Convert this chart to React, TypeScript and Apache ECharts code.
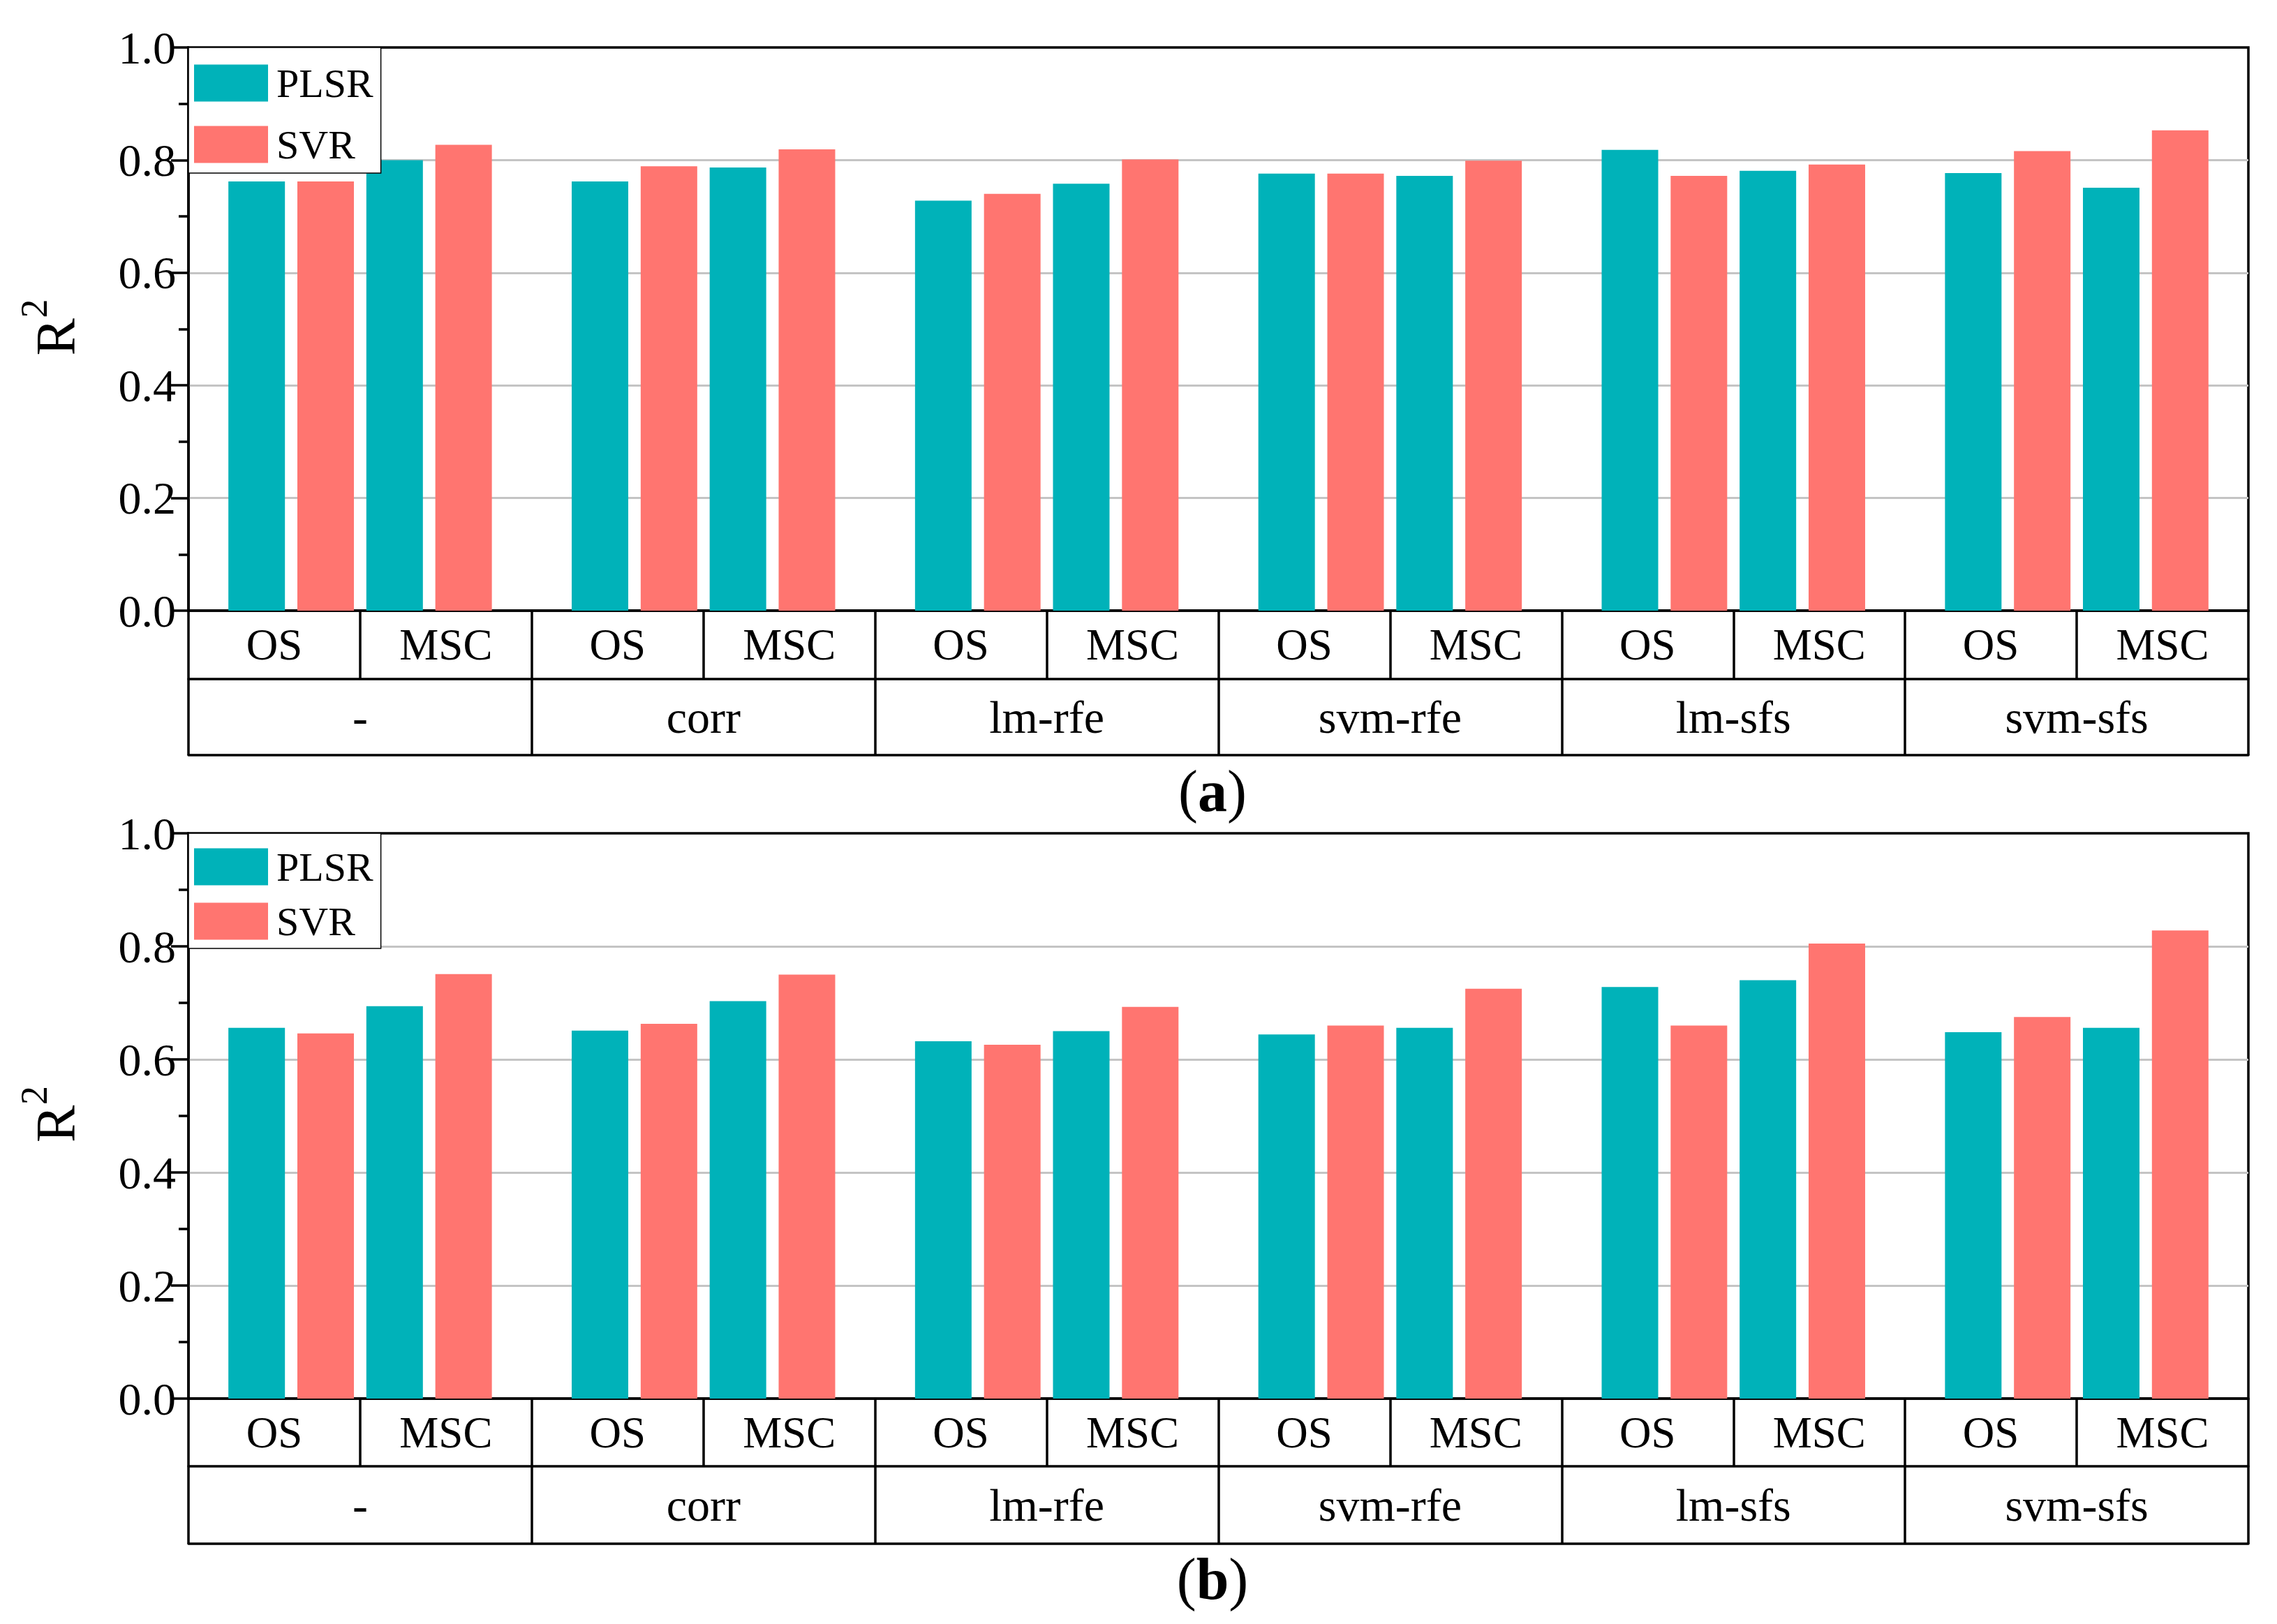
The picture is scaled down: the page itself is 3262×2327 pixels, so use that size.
import React, { useEffect, useRef } from "react";
import * as echarts from "echarts";

// ---- data ----
const groups = ["-", "corr", "lm-rfe", "svm-rfe", "lm-sfs", "svm-sfs"];
const subLabels = ["OS", "MSC"];
const seriesNames = ["PLSR", "SVR"];

// (a)
const plsrOS_a = [0.762, 0.762, 0.728, 0.776, 0.818, 0.777];
const svrOS_a = [0.762, 0.789, 0.740, 0.776, 0.772, 0.816];
const plsrMSC_a = [0.800, 0.787, 0.758, 0.772, 0.781, 0.751];
const svrMSC_a = [0.827, 0.819, 0.801, 0.799, 0.792, 0.853];

// (b)
const plsrOS_b = [0.656, 0.651, 0.632, 0.644, 0.728, 0.648];
const svrOS_b = [0.646, 0.663, 0.626, 0.660, 0.660, 0.675];
const plsrMSC_b = [0.694, 0.703, 0.650, 0.656, 0.740, 0.656];
const svrMSC_b = [0.751, 0.750, 0.693, 0.725, 0.805, 0.828];

const panelLabels = ["a", "b"];

const TEAL = "#00B2B9";
const SALMON = "#FF7570";
const FONT = "Liberation Serif";

export default function App() {
  const ref = useRef<HTMLDivElement>(null);

  useEffect(() => {
    if (!ref.current) return;
    const chart = echarts.init(ref.current, undefined, { renderer: "svg" });

    const panels = [
      { top: 68, height: 807, row1: 98, row2: 109, legendGap: 30, legendPad: [22, 11, 12, 8], data: [plsrOS_a, svrOS_a, plsrMSC_a, svrMSC_a], labelY: 1133 },
      { top: 1194, height: 810, row1: 97, row2: 111, legendGap: 20, legendPad: [19, 11, 10, 8], data: [plsrOS_b, svrOS_b, plsrMSC_b, svrMSC_b], labelY: 2262 },
    ];
    const left = 270;
    const right = 41;
    const lw = 3.5;

    const subCats = groups.flatMap(() => subLabels);

    const grids: any[] = [];
    const xAxes: any[] = [];
    const yAxes: any[] = [];
    const series: any[] = [];
    const legends: any[] = [];
    const graphics: any[] = [];

    panels.forEach((p, gi) => {
      grids.push({
        left,
        right,
        top: p.top,
        height: p.height,
        show: true,
        borderColor: "#000",
        borderWidth: lw,
        backgroundColor: "transparent",
      });
      const base = xAxes.length;
      // main axis for bars
      xAxes.push({
        type: "category",
        gridIndex: gi,
        data: groups,
        show: false,
      });
      // sub-category row
      xAxes.push({
        type: "category",
        gridIndex: gi,
        data: subCats,
        position: "bottom",
        offset: 0,
        axisLine: { show: true, lineStyle: { color: "#000", width: lw } },
        axisTick: { show: true, inside: false, length: p.row1, lineStyle: { color: "#000", width: lw } },
        axisLabel: {
          show: true,
          interval: 0,
          margin: p.row1 / 2,
          verticalAlign: "middle",
          color: "#000",
          fontSize: 63,
          fontFamily: FONT,
        },
        splitLine: { show: false },
      });
      // group row
      xAxes.push({
        type: "category",
        gridIndex: gi,
        data: groups,
        position: "bottom",
        offset: p.row1,
        axisLine: { show: true, lineStyle: { color: "#000", width: lw } },
        axisTick: { show: true, inside: false, length: p.row2, lineStyle: { color: "#000", width: lw } },
        axisLabel: {
          show: true,
          interval: 0,
          margin: p.row2 / 2,
          verticalAlign: "middle",
          color: "#000",
          fontSize: 66,
          fontFamily: FONT,
        },
        splitLine: { show: false },
      });
      // bottom line of table
      xAxes.push({
        type: "category",
        gridIndex: gi,
        data: groups,
        position: "bottom",
        offset: p.row1 + p.row2,
        axisLine: { show: true, lineStyle: { color: "#000", width: lw } },
        axisTick: { show: false },
        axisLabel: { show: false },
        splitLine: { show: false },
      });

      yAxes.push({
        type: "value",
        gridIndex: gi,
        min: 0,
        max: 1,
        interval: 0.2,
        axisLine: { show: true, lineStyle: { color: "#000", width: lw } },
        axisTick: { show: true, inside: false, length: 25, lineStyle: { color: "#000", width: lw } },
        minorTick: { show: true, splitNumber: 2, length: 14, lineStyle: { color: "#000", width: lw } },
        axisLabel: {
          margin: 18,
          color: "#000",
          fontSize: 66,
          fontFamily: FONT,
          formatter: (v: number) => v.toFixed(1),
        },
        splitLine: {
          show: true,
          lineStyle: {
            color: ["transparent", "#c4c4c4", "#c4c4c4", "#c4c4c4", "#c4c4c4", "transparent"],
            width: 3,
          },
        },
      });

      const colors = [TEAL, SALMON, TEAL, SALMON];
      p.data.forEach((arr, si) => {
        series.push({
          name: seriesNames[si % 2],
          type: "bar",
          xAxisIndex: base,
          yAxisIndex: gi,
          data: arr,
          barWidth: 81,
          barGap: "22%",
          itemStyle: { color: colors[si] },
          emphasis: { disabled: true },
        });
      });

      legends.push({
        data: seriesNames,
        orient: "vertical",
        left: left,
        top: p.top,
        itemWidth: 106,
        itemHeight: 53,
        itemGap: p.legendGap,
        padding: p.legendPad,
        icon: "rect",
        borderColor: "#000",
        borderWidth: 1.5,
        backgroundColor: "#fff",
        selectedMode: false,
        textStyle: {
          fontSize: 58,
          fontFamily: FONT,
          color: "#000",
          lineHeight: 53,
          padding: [0, 0, 0, 7],
        },
      });

      const cy = p.top + p.height / 2;
      graphics.push({
        type: "group",
        x: 80,
        y: cy,
        rotation: Math.PI / 2,
        children: [
          {
            type: "text",
            x: -38,
            y: 0,
            style: { text: "R", fontSize: 80, fontFamily: FONT, fill: "#000", align: "left", verticalAlign: "middle" },
          },
          {
            type: "text",
            x: 16,
            y: -31,
            style: { text: "2", fontSize: 54, fontFamily: FONT, fill: "#000", align: "left", verticalAlign: "middle" },
          },
        ],
      });
      graphics.push({
        type: "text",
        x: 1737,
        y: p.labelY,
        style: {
          text: "{p|(}{b|" + panelLabels[gi] + "}{p|)}",
          align: "center",
          verticalAlign: "middle",
          fill: "#000",
          rich: {
            p: { fontSize: 84, fontFamily: FONT, fill: "#000" },
            b: { fontSize: 84, fontFamily: FONT, fontWeight: "bold", fill: "#000" },
          },
        },
      });
    });

    chart.setOption({
      animation: false,
      backgroundColor: "#fff",
      grid: grids,
      xAxis: xAxes,
      yAxis: yAxes,
      series,
      legend: legends,
      graphic: graphics,
    });

    return () => chart.dispose();
  }, []);

  return (
    <div
      ref={ref}
      style={{ position: "absolute", left: 0, top: 0, width: 3262, height: 2327, background: "#fff" }}
    />
  );
}
